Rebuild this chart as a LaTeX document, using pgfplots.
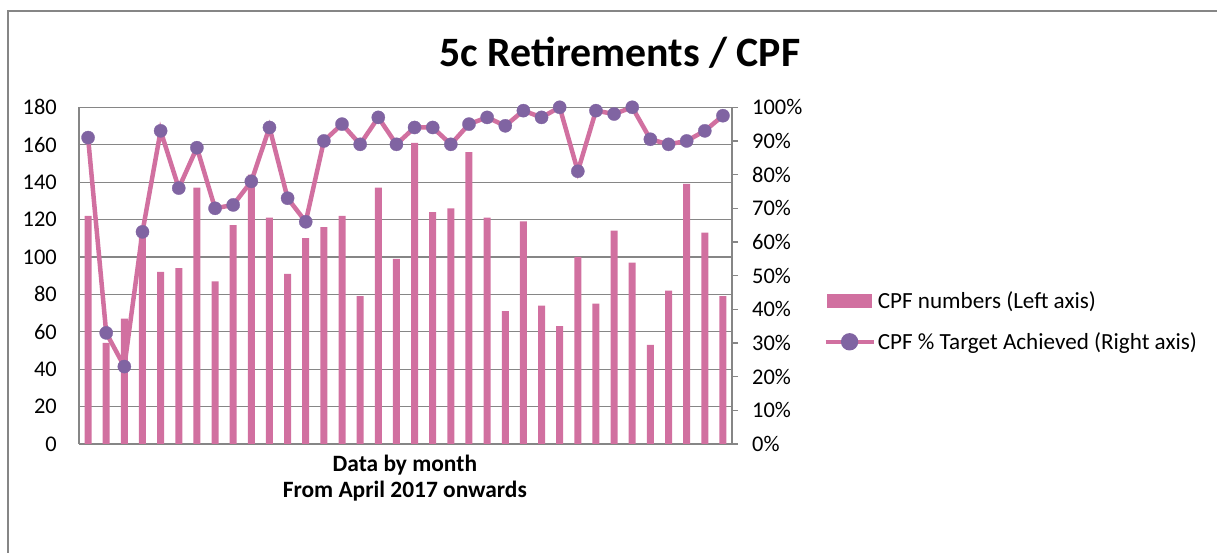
\documentclass[border=0pt]{standalone}
\usepackage{fontspec}
\setmainfont{Carlito}
\usepackage{pgfplots}
\pgfplotsset{compat=1.18}

\definecolor{cpfpink}{RGB}{209,112,160}
\definecolor{cpfpurple}{RGB}{128,100,162}
\definecolor{gridgray}{RGB}{134,134,134}

\begin{document}
\begin{tikzpicture}[x=1bp,y=1bp]
  \useasboundingbox (0,0) rectangle (1217,553);
  \draw[gridgray, line width=1.5bp] (8,-5) -- (8,542) -- (1222,542);

  % left axis: monthly CPF numbers
  \begin{axis}[
      at={(79bp,109bp)}, anchor=south west,
      scale only axis, width=653bp, height=336.7bp,
      xmin=0.5, xmax=36.5, ymin=0, ymax=180,
      xtick=\empty, ytick={0,20,...,180},
      axis x line*=bottom, axis y line*=left,
      axis line style={gridgray, line width=1.2bp},
      ymajorgrids, grid style={gridgray, line width=1.2bp},
      major tick length=0pt,
      /pgf/number format/assume math mode=true,
      yticklabel style={font=\fontsize{22.5}{26}\selectfont, inner sep=0pt, xshift=-22bp},
      title={5c Retirements / CPF},
      title style={at={(0.8285,1)}, anchor=base, yshift=35bp,
                   font=\bfseries\fontsize{42}{48}\selectfont},
      xlabel={Data by month\\From April 2017 onwards},
      xlabel style={at={(0.499,0)}, anchor=north, yshift=-8bp, align=center,
                    font=\bfseries\fontsize{23.5}{26}\selectfont},
    ]
    \addplot[ybar, bar width=7bp, fill=cpfpink, draw=none] coordinates {
      (1,122)(2,54)(3,67)(4,113)(5,92)(6,94)(7,137)(8,87)(9,117)(10,144)
      (11,121)(12,91)(13,110)(14,116)(15,122)(16,79)(17,137)(18,99)(19,161)(20,124)
      (21,126)(22,156)(23,121)(24,71)(25,119)(26,74)(27,63)(28,100)(29,75)(30,114)
      (31,97)(32,53)(33,82)(34,139)(35,113)(36,79)};
  \end{axis}

  % right axis: percentage of target achieved
  \begin{axis}[
      at={(79bp,109bp)}, anchor=south west,
      scale only axis, width=653bp, height=336.7bp,
      xmin=0.5, xmax=36.5, ymin=0, ymax=100,
      axis x line=none, axis y line*=right,
      axis line style={gridgray, line width=1.2bp},
      ytick={0,10,...,100},
      yticklabel={\pgfmathprintnumber{\tick}\%},
      tick align=outside, major tick length=6bp,
      tick style={gridgray, line width=1.2bp},
      /pgf/number format/assume math mode=true,
      yticklabel style={font=\fontsize{22.5}{26}\selectfont, inner sep=0pt, xshift=14bp},
      legend style={at={(1.135,0.365)}, anchor=west, draw=none, fill=none,
                    font=\fontsize{23.2}{26}\selectfont, row sep=19bp,
                    nodes={inner xsep=2bp}},
      legend cell align=left,
    ]
    \addlegendimage{legend image code/.code={
        \fill[cpfpink] (2bp,-6.5bp) rectangle (46bp,6.5bp);}}
    \addlegendentry{CPF numbers (Left axis)}
    \addplot[color=cpfpink, line width=4.5bp, mark=*, mark size=6.6bp,
             mark options={fill=cpfpurple, draw=cpfpurple, line width=0.3bp},
             legend image code/.code={
               \draw[cpfpink, line width=4.5bp] (0bp,0bp) -- (48bp,0bp);
               \fill[cpfpurple] (24bp,0bp) circle (6.4bp);}]
      coordinates {
      (1,91)(2,33)(3,23)(4,63)(5,93)(6,76)(7,88)(8,70)(9,71)(10,78)
      (11,94)(12,73)(13,66)(14,90)(15,95)(16,89)(17,97)(18,89)(19,94)(20,94)
      (21,89)(22,95)(23,97)(24,94.5)(25,99)(26,97)(27,100)(28,81)(29,99)(30,98)
      (31,100)(32,90.5)(33,89)(34,90)(35,93)(36,97.5)};
    \addlegendentry{CPF \% Target Achieved (Right axis)}
  \end{axis}
\end{tikzpicture}
\end{document}
